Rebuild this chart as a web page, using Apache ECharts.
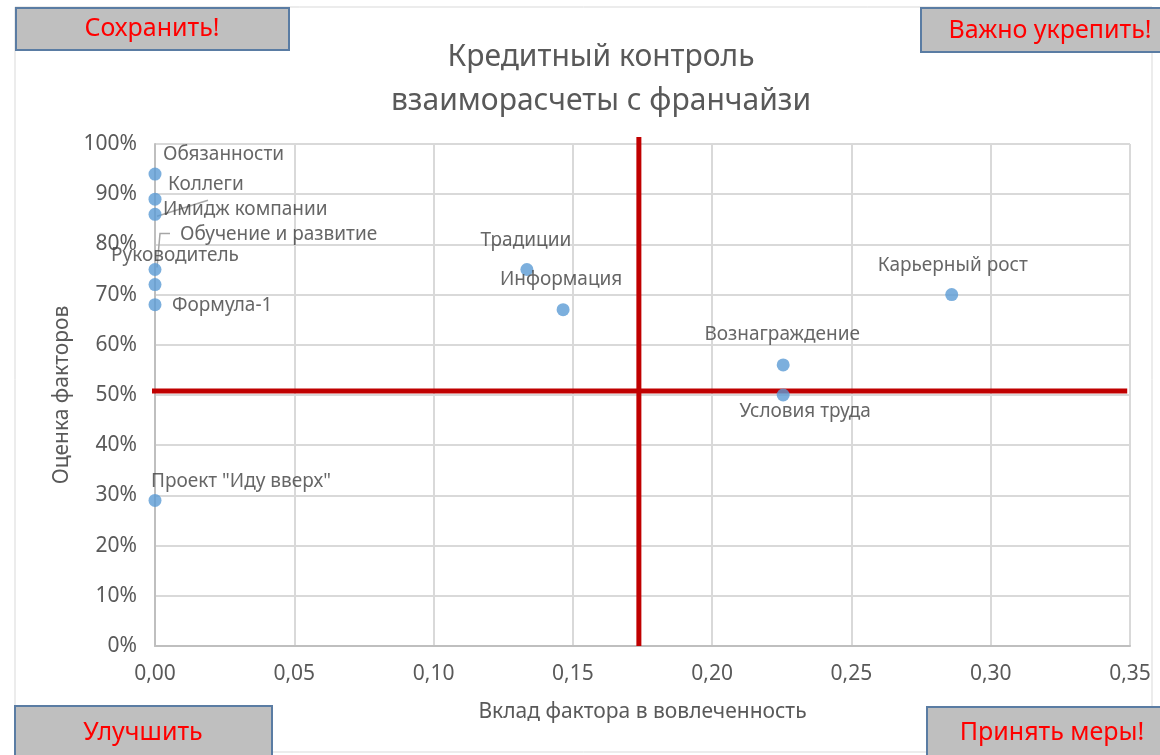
<!DOCTYPE html>
<html>
<head>
<meta charset="utf-8">
<script src="https://cdn.jsdelivr.net/npm/echarts@6/dist/echarts.min.js"></script>
<style>
  html, body { margin: 0; padding: 0; background: #fff; }
  #chart { width: 1160px; height: 755px; }
</style>
</head>
<body>
<div id="chart"></div>
<script>
// Factors: contribution to engagement (x) and factor score (y)
const factorNames = [
  'Обязанности', 'Коллеги', 'Имидж компании', 'Обучение и развитие', 'Руководитель',
  'Формула-1', 'Проект "Иду вверх"', 'Традиции', 'Информация',
  'Карьерный рост', 'Вознаграждение', 'Условия труда'
];
const contribution = [0, 0, 0, 0, 0, 0, 0, 0.1335, 0.1465, 0.286, 0.2255, 0.2255];
const score        = [0.94, 0.89, 0.86, 0.75, 0.72, 0.68, 0.29, 0.75, 0.67, 0.70, 0.56, 0.50];

// Quadrant dividers (mean contribution, mean score)
const meanContribution = 0.1737;
const meanScore = 0.508;
const vLineSpan = [0, 1.014];
const hLineSpan = [-0.0036, 0.349];

const xTicks = { min: 0, max: 0.35, step: 0.05 };
const yTicks = { min: 0, max: 1, step: 0.1 };

// Corner captions
const cornerTexts = ['Сохранить!', 'Важно укрепить!', 'Улучшить', 'Принять меры!'];

// label placement per factor: [dx, dy, align]
const labelPlacement = {
  'Обязанности': [8, -20, 'left'],
  'Коллеги': [13, -15, 'left'],
  'Имидж компании': [8, -5, 'left'],
  'Обучение и развитие': [25, -35, 'left'],
  'Руководитель': [20, -29, 'center'],
  'Формула-1': [17, 1, 'left'],
  'Проект "Иду вверх"': [-4, -19, 'left'],
  'Традиции': [-1, -29, 'center'],
  'Информация': [-2, -30, 'center'],
  'Карьерный рост': [1, -29, 'center'],
  'Вознаграждение': [-1, -30, 'center'],
  'Условия труда': [22, 17, 'center']
};

// leader lines from a point toward its moved label (pixel offsets from the point)
const leaderPaths = {
  'Имидж компании': [[2, 2], [53, -14]],
  'Обучение и развитие': [[2, -2], [5, -36], [15, -36]]
};

const FONT = 'Noto Sans';
const chart = echarts.init(document.getElementById('chart'));

const points = factorNames.map((n, i) => {
  const p = labelPlacement[n];
  return {
    name: n,
    value: [contribution[i], score[i]],
    label: { align: p[2], offset: [p[0], p[1]] }
  };
});

const leaderData = factorNames
  .map((n, i) => ({ name: n, value: [contribution[i], score[i]] }))
  .filter(d => leaderPaths[d.name]);

function box(x, y, w, h, text, cx, cy) {
  return [
    { type: 'rect', shape: { x: x, y: y, width: w, height: h },
      style: { fill: '#bfbfbf', stroke: '#5a7ca3', lineWidth: 2 }, z: 10 },
    { type: 'text', x: cx, y: cy, z: 11,
      style: { text: text, fill: '#ff0000', font: '25px "' + FONT + '"', align: 'center', verticalAlign: 'middle' } }
  ];
}

const option = {
  backgroundColor: '#ffffff',
  animation: false,
  title: {
    text: 'Кредитный контроль\nвзаиморасчеты с франчайзи',
    left: 596, top: 30, textAlign: 'center',
    textStyle: { fontFamily: FONT, fontSize: 30, fontWeight: 'normal', color: '#595959', lineHeight: 44 }
  },
  grid: { left: 155, right: 30, top: 144, bottom: 109 },
  xAxis: {
    type: 'value', min: xTicks.min, max: xTicks.max, interval: xTicks.step,
    name: 'Вклад фактора в вовлеченность', nameLocation: 'middle', nameGap: 56,
    nameTextStyle: { fontFamily: FONT, fontSize: 21, color: '#595959' },
    axisLine: { show: true, lineStyle: { color: '#bfbfbf', width: 2 } },
    axisTick: { show: false },
    axisLabel: { margin: 18, fontFamily: FONT, fontSize: 21, color: '#595959',
      formatter: v => v.toFixed(2).replace('.', ',') },
    splitLine: { show: true, lineStyle: { color: '#d9d9d9', width: 2 } }
  },
  yAxis: {
    type: 'value', min: yTicks.min, max: yTicks.max, interval: yTicks.step,
    name: 'Оценка факторов', nameLocation: 'middle', nameGap: 79,
    nameTextStyle: { fontFamily: FONT, fontSize: 21, color: '#595959' },
    axisLine: { show: true, lineStyle: { color: '#bfbfbf', width: 2 } },
    axisTick: { show: false },
    axisLabel: { margin: 18, fontFamily: FONT, fontSize: 21, color: '#595959',
      formatter: v => Math.round(v * 100) + '%' },
    splitLine: { show: true, lineStyle: { color: '#d9d9d9', width: 2 } }
  },
  series: [
    {
      type: 'line', clip: false, symbol: 'none', silent: true, z: 3,
      lineStyle: { color: '#c00000', width: 5, cap: 'butt' },
      data: [[meanContribution, vLineSpan[0]], [meanContribution, vLineSpan[1]]]
    },
    {
      type: 'line', clip: false, symbol: 'none', silent: true, z: 3,
      lineStyle: { color: '#c00000', width: 5, cap: 'butt' },
      data: [[hLineSpan[0], meanScore], [hLineSpan[1], meanScore]]
    },
    {
      type: 'custom', clip: false, silent: true, z: 4,
      data: leaderData,
      renderItem: (params, api) => {
        const c = api.coord([api.value(0), api.value(1)]);
        const name = leaderData[params.dataIndex].name;
        const pts = leaderPaths[name].map(o => [c[0] + o[0], c[1] + o[1]]);
        return {
          type: 'polyline',
          shape: { points: pts },
          style: { stroke: '#a6a6a6', lineWidth: 1.5, fill: null }
        };
      }
    },
    {
      type: 'scatter', clip: false, z: 5,
      symbolSize: 13,
      itemStyle: { color: '#5b9bd5' },
      label: {
        show: true, position: 'inside', verticalAlign: 'middle',
        formatter: '{b}', fontFamily: FONT, fontSize: 19, color: '#404040'
      },
      data: points
    }
  ],
  graphic: [
    { type: 'rect', shape: { x: 15, y: 7, width: 1137, height: 745 },
      style: { fill: 'none', stroke: '#d9d9d9', lineWidth: 1 }, z: 0 },
    ...box(16, 8, 273, 42, cornerTexts[0], 152, 29),
    ...box(921, 8, 250, 44, cornerTexts[1], 1050, 31),
    ...box(15, 706, 257, 60, cornerTexts[2], 143, 733),
    ...box(927, 707, 240, 60, cornerTexts[3], 1052, 733)
  ]
};

chart.setOption(option);
</script>
</body>
</html>
